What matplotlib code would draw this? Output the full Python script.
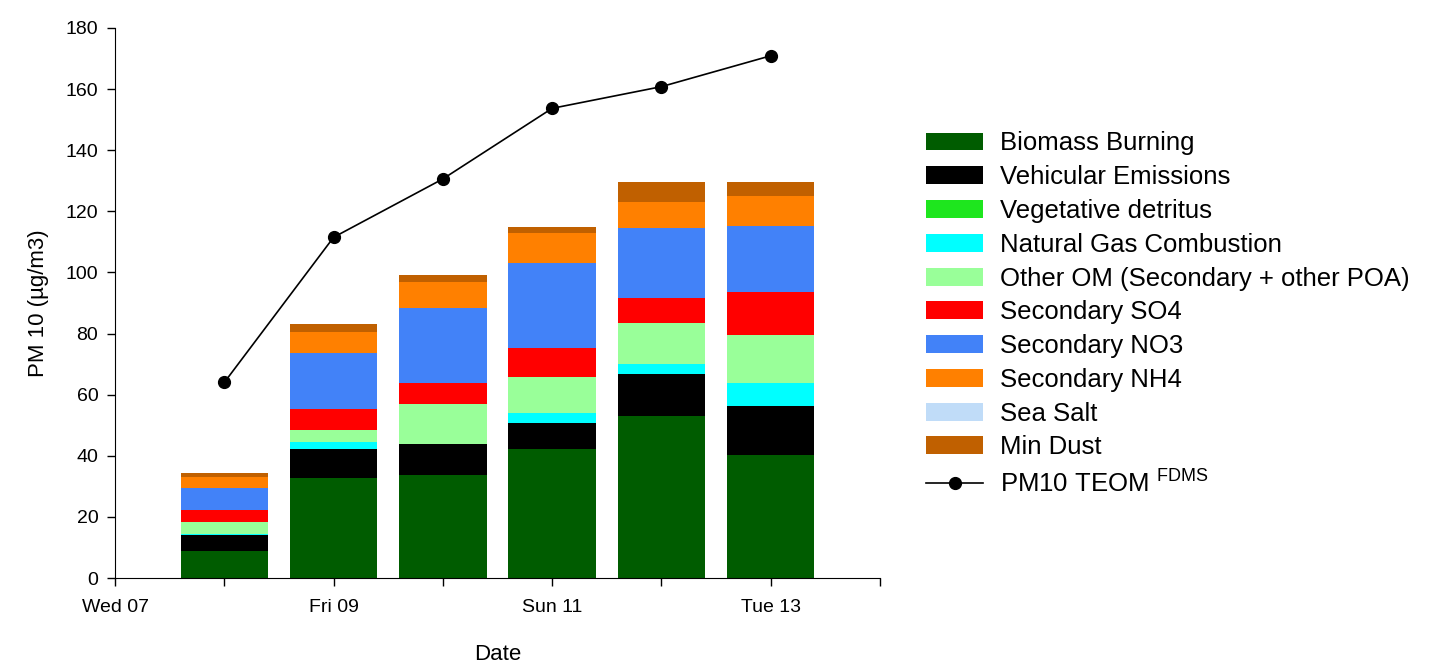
import matplotlib
matplotlib.use("Agg")
import matplotlib.pyplot as plt
from matplotlib.patches import Patch
from matplotlib.lines import Line2D

plt.rcParams['font.family'] = ['Liberation Sans', 'DejaVu Sans']
plt.rcParams['mathtext.fontset'] = 'custom'
plt.rcParams['mathtext.rm'] = 'Liberation Sans'

# daily source apportionment (ug/m3), Thu 08 .. Tue 13
day_pos = [1, 2, 3, 4, 5, 6]
biomass = [9.0, 32.6, 33.7, 42.1, 53.1, 40.2]
vehicular = [5.0, 9.5, 10.1, 8.5, 13.7, 16.1]
vegetative = [0.0, 0.0, 0.0, 0.0, 0.0, 0.0]
natgas = [0.3, 2.5, 0.0, 3.3, 3.4, 7.4]
other_om = [4.0, 3.8, 13.0, 11.8, 13.3, 15.8]
so4 = [3.9, 6.9, 6.9, 9.5, 8.0, 14.0]
no3 = [7.4, 18.2, 24.8, 27.8, 22.9, 21.7]
nh4 = [3.6, 6.9, 8.5, 10.0, 8.5, 9.8]
sea_salt = [0.0, 0.0, 0.0, 0.0, 0.0, 0.0]
min_dust = [1.1, 2.6, 2.1, 2.0, 6.8, 4.7]
teom = [64, 111.5, 130.6, 153.7, 160.8, 170.9]

tick_pos = [0, 1, 2, 3, 4, 5, 6, 7]
tick_labels = ['Wed 07', '', 'Fri 09', '', 'Sun 11', '', 'Tue 13', '']

sources = [
    ('Biomass Burning', biomass, '#005c00'),
    ('Vehicular Emissions', vehicular, '#000000'),
    ('Vegetative detritus', vegetative, '#1ee61e'),
    ('Natural Gas Combustion', natgas, '#00ffff'),
    ('Other OM (Secondary + other POA)', other_om, '#99ff99'),
    ('Secondary SO4', so4, '#ff0000'),
    ('Secondary NO3', no3, '#4282f8'),
    ('Secondary NH4', nh4, '#ff8000'),
    ('Sea Salt', sea_salt, '#c0dcf8'),
    ('Min Dust', min_dust, '#c06000'),
]

fig = plt.figure(figsize=(14.36, 6.66), dpi=100)
ax = fig.add_axes([0.0801, 0.1321, 0.5327, 0.8259])

bottom = [0.0] * len(day_pos)
handles = []
for name, vals, col in sources:
    ax.bar(day_pos, vals, width=0.8, bottom=bottom, color=col, linewidth=0)
    bottom = [b + v for b, v in zip(bottom, vals)]
    handles.append(Patch(facecolor=col, edgecolor='none', label=name))

ax.plot(day_pos, teom, color='black', lw=1.2, marker='o', markersize=8.5)
handles.append(Line2D([], [], color='black', lw=1.2, marker='o', markersize=8.5,
                      label='PM10 TEOM $^{\\mathrm{FDMS}}$'))

ax.set_xlim(0, 7)
ax.set_ylim(0, 180)
ax.set_yticks(range(0, 181, 20))
ax.set_xticks(tick_pos)
ax.set_xticklabels(tick_labels)
ax.tick_params(axis='both', direction='out', length=6, width=1, labelsize=14, pad=6)
ax.tick_params(axis='x', pad=9)
ax.spines['top'].set_visible(False)
ax.spines['right'].set_visible(False)

ax.set_xlabel('Date', fontsize=16, labelpad=20)
ax.set_ylabel('PM 10 (µg/m3)', fontsize=16, labelpad=12)

fig.legend(handles=handles, loc='upper left', bbox_to_anchor=(0.638, 0.818),
           frameon=False, fontsize=18.5, handlelength=2.2, handleheight=0.7,
           handletextpad=0.65, labelspacing=0.38, borderaxespad=0)

fig.savefig('out.png', dpi=100)
